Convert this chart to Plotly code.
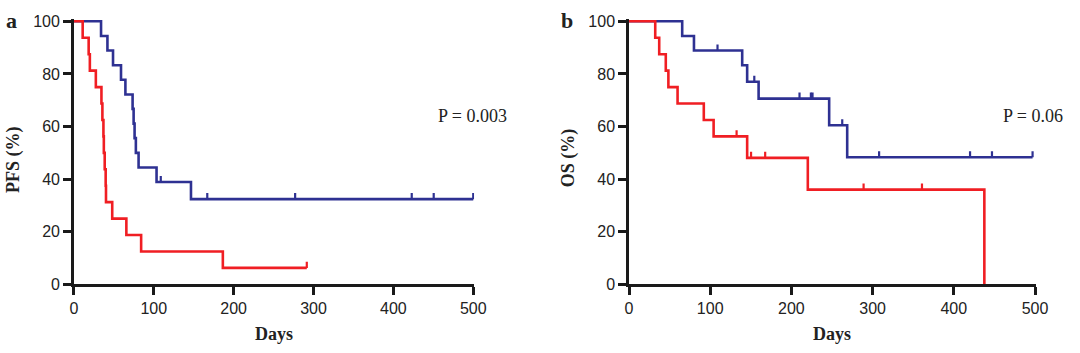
import numpy as np
import plotly.graph_objects as go

# ---------------- data ----------------
# Panel a: PFS
pfs_blue_t = [0, 34, 42, 49, 59, 64.5, 73.5, 74.8, 76, 77.6, 81, 103.5, 146.6]
pfs_blue_s = [100, 94.4, 88.9, 83.3, 77.8, 72.2, 66.7, 61.1, 55.6, 50.0, 44.4, 38.9, 32.4]
pfs_blue_end = 500
pfs_blue_cens = [108.8, 167, 277, 423, 450.5, 500]

pfs_red_t = [0, 11, 18.5, 20, 27.5, 34.5, 35.7, 37, 37.5, 38.6, 39.8, 40.2, 48, 65.7, 84.2, 186.5]
pfs_red_s = [100, 93.75, 87.5, 81.25, 75, 68.75, 62.5, 56.25, 50, 43.75, 37.5, 31.25, 25, 18.75, 12.5, 6.25]
pfs_red_end = 291.6
pfs_red_cens = [291.6]

# Panel b: OS
os_blue_t = [0, 65.5, 80, 139.4, 145.5, 159.6, 246.5, 268.7]
os_blue_s = [100, 94.4, 88.9, 83.3, 77.0, 70.6, 60.5, 48.3]
os_blue_end = 497
os_blue_cens = [109, 154.3, 210, 224, 226, 262.6, 308, 420, 447, 497]

os_red_t = [0, 32.3, 37.2, 45.3, 48.5, 59.8, 92.1, 104.2, 145.5, 220.2, 437.6]
os_red_s = [100, 93.75, 87.5, 81.25, 75, 68.75, 62.5, 56.25, 48.1, 36.0, 0]
os_red_end = 437.6
os_red_cens = [132.5, 150.3, 167.7, 288.9, 360.8]

x_ticks = [0, 100, 200, 300, 400, 500]
y_ticks = [0, 20, 40, 60, 80, 100]
p_values = ["P = 0.003", "P = 0.06"]
panel_letters = ["a", "b"]
y_titles = ["PFS (%)", "OS (%)"]
x_title = "Days"

BLUE = "#2E3192"
RED = "#F01E23"
AXC = "#1a1a1a"
W, H = 1080, 353
CENS_H = 2.3  # censor tick height in % units


def step_xy(t, s, end):
    x = list(t) + [end]
    y = list(s) + [s[-1]]
    return x, y


def cens_xy(t, s, cens):
    t = np.asarray(t)
    xs, ys = [], []
    for c in cens:
        i = np.searchsorted(t, c, side="right") - 1
        v = s[i]
        xs += [c, c, None]
        ys += [v, v + CENS_H, None]
    return xs, ys


fig = go.Figure()

curves = [
    ("x", "y", pfs_blue_t, pfs_blue_s, pfs_blue_end, pfs_blue_cens, BLUE),
    ("x", "y", pfs_red_t, pfs_red_s, pfs_red_end, pfs_red_cens, RED),
    ("x2", "y2", os_blue_t, os_blue_s, os_blue_end, os_blue_cens, BLUE),
    ("x2", "y2", os_red_t, os_red_s, os_red_end, os_red_cens, RED),
]
for xa, ya, t, s, end, cens, col in curves:
    x, y = step_xy(t, s, end)
    fig.add_trace(go.Scatter(x=x, y=y, mode="lines", line=dict(color=col, width=2.6, shape="hv"),
                             xaxis=xa, yaxis=ya, showlegend=False, hoverinfo="skip"))
    cx, cy = cens_xy(t, s, cens)
    fig.add_trace(go.Scatter(x=cx, y=cy, mode="lines", line=dict(color=col, width=2.2),
                             xaxis=xa, yaxis=ya, showlegend=False, hoverinfo="skip"))

# pixel-derived domains
ax_a = (71, 71 + 501 * 0.8115)
ax_b = (635, 635 + 501 * 0.825)
y_bot, y_top = 290.7, 16 - 2.747
ydom = [(H - y_bot) / H, (H - y_top) / H]

axis_common = dict(showline=True, linewidth=2.5, linecolor=AXC, ticks="outside", ticklen=8,
                   tickwidth=2.5, tickcolor=AXC, showgrid=False, zeroline=False,
                   tickfont=dict(family="Liberation Sans, Arial", size=16, color="#222"))

fig.update_layout(
    width=W, height=H, margin=dict(l=0, r=0, t=0, b=0),
    paper_bgcolor="white", plot_bgcolor="white",
    xaxis=dict(domain=[ax_a[0] / W, ax_a[1] / W], range=[0, 501], tickvals=x_ticks, anchor="y", **axis_common),
    yaxis=dict(domain=ydom, range=[0, 101], tickvals=y_ticks, anchor="x", **axis_common),
    xaxis2=dict(domain=[ax_b[0] / W, ax_b[1] / W], range=[0, 501], tickvals=x_ticks, anchor="y2", **axis_common),
    yaxis2=dict(domain=ydom, range=[0, 101], tickvals=y_ticks, anchor="x2", **axis_common),
)

serif_b = dict(family="Liberation Serif, Times New Roman", size=18, color="#222")
serif = dict(family="Liberation Serif, Times New Roman", size=18, color="#222")
ann = []
# panel letters
for px, lab in zip([8, 572], panel_letters):
    ann.append(dict(x=px / W, y=1 - 15 / H, xref="paper", yref="paper", text=f"<b>{lab}</b>",
                    showarrow=False, xanchor="center", yanchor="middle",
                    font=dict(family="Liberation Serif", size=22, color="#222")))
# y titles
for px, py, lab in zip([9, 573.5], [160, 158.5], y_titles):
    ann.append(dict(x=px / W, y=1 - py / H, xref="paper", yref="paper", text=f"<b>{lab}</b>",
                    showarrow=False, textangle=-90, xanchor="center", yanchor="middle", font=serif_b))
# x titles
for px in [274, 841]:
    ann.append(dict(x=px / W, y=1 - 343 / H, xref="paper", yref="paper", text=f"<b>{x_title}</b>",
                    showarrow=False, xanchor="center", yanchor="middle", font=serif_b))
# p-values
for px, lab in zip([513, 1078], p_values):
    ann.append(dict(x=px / W, y=1 - 115 / H, xref="paper", yref="paper", text=lab,
                    showarrow=False, xanchor="right", yanchor="middle", font=serif))
fig.update_layout(annotations=ann)

fig.write_html("out.html")
